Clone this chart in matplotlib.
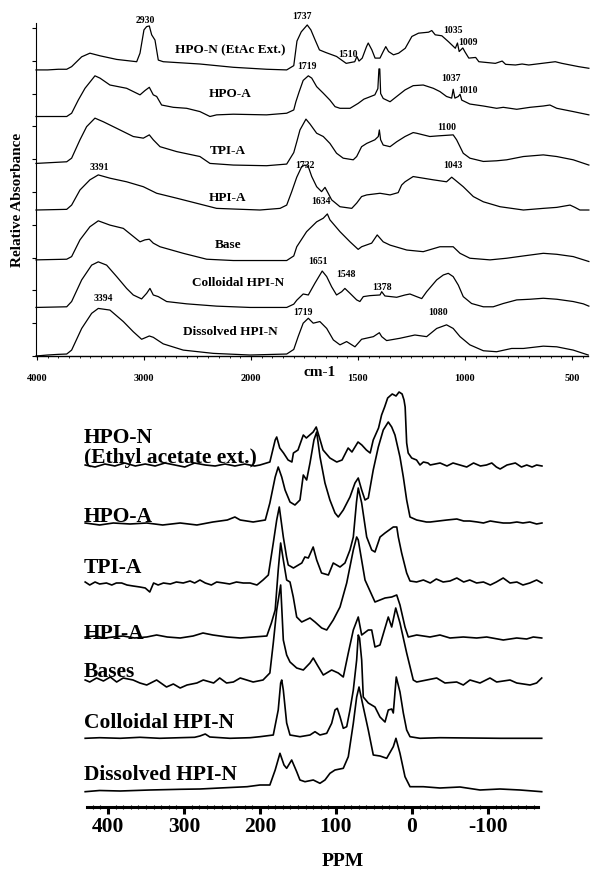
import numpy as np
import matplotlib.pyplot as plt
from matplotlib.ticker import FixedLocator, MultipleLocator

plt.rcParams['font.family'] = ['Liberation Serif', 'DejaVu Serif']
plt.rcParams['font.weight'] = 'bold'

# ---- FTIR spectra: (wavenumber cm-1, relative absorbance incl. stack offset)
ir_hpo_n = [(4009, 8.72), (3900, 8.72), (3800, 8.74), (3722, 8.74), (3676, 8.82), (3582, 9.12),
            (3505, 9.23), (3411, 9.15), (3255, 9.04), (3068, 8.97), (3037, 9.23), (3000, 9.94),
            (2975, 10.04), (2950, 10.06), (2928, 9.79), (2897, 9.63), (2866, 9.02), (2820, 8.97),
            (2477, 8.90), (2165, 8.80), (1927, 8.74), (1833, 8.72), (1800, 8.85), (1785, 9.6),
            (1765, 9.88), (1737, 10.09), (1720, 9.94), (1700, 9.63), (1680, 9.33), (1650, 9.25),
            (1600, 9.13), (1555, 8.92), (1515, 8.97), (1505, 9.13), (1495, 8.99), (1480, 9.08),
            (1460, 9.43), (1452, 9.54), (1435, 9.33), (1420, 9.08), (1397, 9.08), (1382, 9.28),
            (1370, 9.43), (1357, 9.28), (1334, 9.18), (1310, 9.23), (1279, 9.38), (1248, 9.74),
            (1217, 9.84), (1170, 9.87), (1155, 9.92), (1139, 9.79), (1108, 9.76), (1077, 9.58),
            (1045, 9.38), (1035, 9.54), (1027, 9.28), (1010, 9.39), (1000, 9.27), (982, 9.08),
            (950, 9.10), (935, 8.97), (920, 8.96), (858, 8.92), (826, 8.99), (810, 8.89),
            (764, 8.87), (733, 8.90), (702, 8.87), (640, 8.92), (578, 8.97), (547, 8.92),
            (469, 8.82), (421, 8.77)]
ir_hpo_a = [(4009, 7.30), (3722, 7.30), (3676, 7.40), (3614, 7.80), (3551, 8.16), (3458, 8.54),
            (3411, 8.47), (3318, 8.26), (3162, 8.16), (3037, 7.96), (2991, 8.09), (2950, 8.19),
            (2913, 7.96), (2881, 7.91), (2835, 7.65), (2726, 7.58), (2601, 7.55), (2477, 7.45),
            (2383, 7.30), (2321, 7.35), (2165, 7.37), (1927, 7.35), (1833, 7.40), (1800, 7.5),
            (1790, 7.75), (1775, 8.05), (1756, 8.40), (1732, 8.54), (1716, 8.47), (1693, 8.21),
            (1662, 8.01), (1631, 7.80), (1607, 7.60), (1584, 7.55), (1537, 7.55), (1499, 7.70),
            (1472, 7.83), (1452, 7.88), (1421, 7.96), (1407, 8.15), (1402, 8.75), (1398, 8.75),
            (1394, 8.0), (1382, 7.85), (1350, 7.75), (1319, 7.91), (1280, 8.11), (1242, 8.24),
            (1195, 8.26), (1148, 8.16), (1117, 8.06), (1086, 7.91), (1062, 7.86), (1055, 8.13),
            (1047, 7.86), (1031, 7.91), (1023, 7.98), (1015, 7.80), (977, 7.68), (914, 7.62),
            (852, 7.55), (821, 7.58), (758, 7.52), (696, 7.58), (634, 7.62), (603, 7.65),
            (571, 7.55), (494, 7.45), (421, 7.35)]
ir_tpi_a = [(4009, 5.87), (3722, 5.92), (3676, 6.03), (3598, 6.59), (3536, 6.99), (3458, 7.25),
            (3380, 7.14), (3255, 6.94), (3100, 6.69), (3006, 6.64), (2950, 6.74), (2913, 6.59),
            (2850, 6.38), (2694, 6.23), (2477, 6.08), (2383, 5.87), (2165, 5.82), (1927, 5.80),
            (1833, 5.85), (1800, 6.2), (1785, 6.55), (1771, 6.89), (1743, 7.22), (1724, 7.07),
            (1693, 6.79), (1662, 6.69), (1631, 6.48), (1600, 6.18), (1569, 6.03), (1522, 5.98),
            (1506, 6.08), (1483, 6.38), (1459, 6.48), (1421, 6.59), (1405, 6.69), (1400, 6.89),
            (1394, 6.59), (1382, 6.43), (1350, 6.38), (1319, 6.53), (1280, 6.69), (1242, 6.81),
            (1226, 6.79), (1164, 6.69), (1125, 6.71), (1055, 6.74), (1039, 6.59), (1008, 6.18),
            (977, 6.03), (914, 5.93), (852, 5.95), (805, 5.98), (727, 6.08), (634, 6.13),
            (571, 6.08), (494, 5.98), (421, 5.82)]
ir_hpi_a = [(4009, 4.45), (3722, 4.47), (3676, 4.60), (3598, 5.06), (3505, 5.37), (3427, 5.52),
            (3318, 5.42), (3162, 5.31), (3006, 5.16), (2881, 4.96), (2694, 4.81), (2477, 4.63),
            (2321, 4.50), (2165, 4.48), (1958, 4.45), (1864, 4.50), (1833, 4.60), (1810, 5.0),
            (1786, 5.45), (1763, 5.77), (1748, 5.82), (1732, 5.77), (1716, 5.47), (1693, 5.16),
            (1670, 5.01), (1654, 5.14), (1639, 4.96), (1623, 4.76), (1584, 4.55), (1529, 4.50),
            (1506, 4.66), (1483, 4.86), (1459, 4.91), (1397, 4.96), (1350, 4.91), (1312, 4.98),
            (1296, 5.21), (1280, 5.31), (1242, 5.47), (1195, 5.42), (1148, 5.37), (1086, 5.31),
            (1062, 5.45), (1047, 5.37), (1008, 5.16), (961, 4.86), (914, 4.70), (836, 4.55),
            (727, 4.45), (634, 4.50), (571, 4.53), (509, 4.60), (486, 4.53), (463, 4.45),
            (421, 4.45)]
ir_base = [(4009, 2.93), (3722, 2.95), (3676, 3.03), (3598, 3.54), (3505, 3.94), (3427, 4.12),
           (3318, 3.99), (3193, 3.89), (3037, 3.48), (2991, 3.54), (2950, 3.56), (2913, 3.44),
           (2850, 3.33), (2633, 3.13), (2414, 2.95), (2165, 2.91), (1927, 2.91), (1833, 2.91),
           (1800, 3.05), (1786, 3.33), (1740, 3.79), (1693, 4.09), (1662, 4.20), (1643, 4.33),
           (1631, 4.15), (1584, 3.79), (1537, 3.48), (1499, 3.25), (1483, 3.33), (1436, 3.44),
           (1410, 3.69), (1382, 3.48), (1350, 3.38), (1272, 3.23), (1195, 3.18), (1117, 3.33),
           (1055, 3.33), (1023, 3.13), (977, 2.98), (883, 2.93), (805, 2.98), (727, 3.05),
           (634, 3.13), (571, 3.10), (494, 3.03), (421, 2.88)]
ir_coll = [(4009, 1.48), (3722, 1.50), (3676, 1.66), (3582, 2.32), (3489, 2.77), (3427, 2.87),
           (3349, 2.77), (3255, 2.42), (3162, 2.06), (3100, 1.86), (3022, 1.74), (2975, 1.91),
           (2944, 2.06), (2913, 1.86), (2866, 1.81), (2788, 1.66), (2601, 1.59), (2321, 1.52),
           (2009, 1.48), (1833, 1.48), (1800, 1.58), (1786, 1.70), (1756, 1.89), (1732, 1.86),
           (1701, 2.22), (1667, 2.59), (1646, 2.42), (1623, 2.11), (1600, 1.86), (1576, 1.96),
           (1561, 2.06), (1537, 1.91), (1506, 1.71), (1491, 1.66), (1475, 1.81), (1444, 1.84),
           (1397, 1.86), (1389, 1.96), (1374, 1.83), (1319, 1.79), (1280, 1.86), (1257, 1.89),
           (1226, 1.81), (1202, 1.75), (1179, 1.96), (1132, 2.32), (1101, 2.47), (1078, 2.52),
           (1055, 2.42), (1031, 2.16), (1008, 1.81), (969, 1.60), (914, 1.50), (868, 1.50),
           (821, 1.60), (758, 1.71), (696, 1.73), (634, 1.76), (571, 1.73), (494, 1.66),
           (447, 1.59), (421, 1.52)]
ir_diss = [(4009, 0.0), (3900, 0.03), (3800, 0.05), (3722, 0.06), (3676, 0.18), (3582, 0.84),
           (3489, 1.30), (3427, 1.45), (3318, 1.40), (3193, 1.05), (3100, 0.74), (3022, 0.51),
           (2950, 0.61), (2913, 0.57), (2820, 0.37), (2633, 0.18), (2352, 0.08), (2009, 0.03),
           (1833, 0.06), (1800, 0.20), (1779, 0.60), (1756, 1.00), (1732, 1.15), (1709, 1.00),
           (1678, 1.05), (1646, 0.84), (1615, 0.49), (1584, 0.34), (1553, 0.44), (1514, 0.28),
           (1483, 0.51), (1428, 0.59), (1400, 0.71), (1389, 0.59), (1366, 0.47), (1304, 0.54),
           (1234, 0.64), (1179, 0.59), (1132, 0.84), (1086, 0.95), (1055, 0.84), (1023, 0.59),
           (977, 0.34), (914, 0.16), (852, 0.13), (782, 0.23), (727, 0.23), (634, 0.30),
           (571, 0.28), (494, 0.18), (424, 0.03)]

ir_spectra = [ir_hpo_n, ir_hpo_a, ir_tpi_a, ir_hpi_a, ir_base, ir_coll, ir_diss]
ir_names = ["HPO-N (EtAc Ext.)", "HPO-A", "TPI-A", "HPI-A", "Base",
            "Colloidal HPI-N", "Dissolved HPI-N"]
ir_name_pos = [(2196, 9.33), (2196, 7.99), (2215, 6.25), (2215, 4.82), (2215, 3.38),
               (2121, 2.23), (2196, 0.73)]
ir_peaks = [("2930", 2991, 10.24), ("1737", 1762, 10.34), ("1510", 1547, 9.18),
            ("1035", 1056, 9.91), ("1009", 986, 9.57), ("1719", 1738, 8.81),
            ("1037", 1065, 8.45), ("1010", 986, 8.08), ("1100", 1084, 6.95),
            ("3391", 3421, 5.76), ("1732", 1748, 5.82), ("1043", 1056, 5.82),
            ("1634", 1673, 4.70), ("1651", 1687, 2.87), ("1548", 1556, 2.47),
            ("1378", 1388, 2.10), ("3394", 3383, 1.74), ("1719", 1757, 1.34),
            ("1080", 1126, 1.34)]
ir_ticks = [4000, 3000, 2000, 1500, 1000, 500]

# ---- 13C NMR spectra: (ppm, intensity incl. stack offset)
nmr_hpo_n = [(430, 34.2), (417, 34.0), (404, 34.3), (391, 34.1), (378, 34.4), (364, 34.1),
             (351, 34.3), (338, 34.1), (325, 34.4), (312, 34.2), (299, 34.0), (286, 34.4),
             (272, 34.2), (259, 34.1), (246, 34.3), (233, 34.1), (220, 34.3), (207, 34.1),
             (200, 34.2), (187, 34.5), (180, 36.7), (178, 37.0), (174, 35.9), (169, 35.4),
             (163, 34.7), (158, 34.5), (156, 35.4), (150, 35.7), (143, 37.2), (139, 36.9),
             (130, 37.5), (126, 38.0), (122, 37.0), (117, 35.7), (108, 34.9), (99, 34.5),
             (92, 34.7), (84, 35.9), (79, 35.5), (71, 36.5), (66, 36.2), (60, 35.7), (55, 35.4),
             (51, 36.7), (44, 37.9), (40, 39.2), (36, 40.0), (32, 40.9), (26, 41.3), (21, 41.1),
             (17, 41.5), (13, 41.3), (10.5, 40.7), (9, 40.0), (7, 36.4), (5, 35.4), (0.4, 34.9),
             (-6, 34.7), (-10.5, 34.2), (-15, 34.5), (-21, 34.4), (-24, 34.2), (-37, 34.4),
             (-46, 34.1), (-54, 34.4), (-63, 34.2), (-72, 34.0), (-81, 34.4), (-90, 34.1),
             (-98, 34.2), (-105, 34.4), (-111, 34.0), (-116, 33.8), (-125, 34.2), (-136, 34.4),
             (-144, 34.0), (-151, 34.2), (-158, 34.0), (-164, 34.2), (-171, 34.1)]
nmr_hpo_a = [(430, 28.4), (411, 28.2), (393, 28.4), (371, 28.3), (349, 28.4), (328, 28.2),
             (305, 28.4), (283, 28.2), (262, 28.5), (243, 28.7), (233, 29.0), (226, 28.7),
             (209, 28.5), (193, 28.7), (187, 30.4), (180, 33.0), (176, 34.0), (171.4, 33.0),
             (167, 31.7), (160.5, 30.5), (154, 30.2), (147.4, 30.7), (143, 33.2), (138.6, 32.7),
             (134.2, 34.4), (129, 36.7), (125.4, 37.5), (121, 35.0), (114.5, 32.4), (108, 30.7),
             (101.3, 29.4), (97, 29.0), (90.4, 29.7), (81.6, 31.0), (75, 32.4), (70.7, 32.9),
             (66.2, 31.7), (61.8, 30.7), (57.5, 30.9), (51, 33.7), (44.3, 36.0), (37.8, 37.7),
             (31.2, 38.5), (26.7, 38.0), (22.4, 37.2), (15.8, 35.0), (11.4, 33.0), (7, 30.7),
             (2.6, 29.0), (-6.2, 28.7), (-19, 28.5), (-24, 28.5), (-35, 28.6), (-46, 28.7),
             (-59, 28.8), (-68, 28.6), (-76, 28.6), (-86, 28.5), (-94, 28.4), (-103, 28.6),
             (-111, 28.5), (-120, 28.4), (-129, 28.4), (-138, 28.5), (-146, 28.4), (-155, 28.5),
             (-164, 28.3), (-171, 28.4)]
nmr_tpi_a = [(430, 22.5), (424, 22.2), (417, 22.5), (411, 22.3), (402, 22.4), (395, 22.2),
             (389, 22.4), (382, 22.4), (375, 22.2), (367, 22.1), (358, 22.0), (351, 21.9),
             (345, 21.5), (340, 22.4), (334, 22.2), (327, 22.4), (318, 22.3), (310, 22.5),
             (301, 22.4), (292, 22.6), (286, 22.4), (279, 22.7), (272, 22.4), (264, 22.2),
             (257, 22.5), (248, 22.4), (240, 22.3), (231, 22.5), (222, 22.4), (213, 22.4),
             (204, 22.2), (196, 22.7), (189, 23.2), (182.5, 26.4), (178, 28.7), (174.6, 30.0),
             (169.3, 27.0), (165, 25.0), (162.8, 24.2), (156, 23.9), (145, 24.4), (141, 25.0),
             (136.4, 24.9), (130, 26.0), (125.4, 24.7), (119, 23.4), (110, 23.2), (103.6, 24.4),
             (94.7, 24.0), (88.2, 24.4), (81.6, 25.7), (77.2, 27.0), (73, 30.5), (70.7, 31.9),
             (66.2, 30.4), (59.6, 27.0), (53, 25.7), (48.7, 25.5), (42, 27.0), (35.5, 27.4),
             (24.6, 28.0), (20, 28.0), (18, 27.0), (13.6, 25.4), (7, 23.4), (2.6, 22.6),
             (-6, 22.5), (-15, 22.7), (-24, 22.4), (-32, 22.8), (-41, 22.5), (-50, 22.6),
             (-59, 22.9), (-68, 22.5), (-76, 22.7), (-85, 22.4), (-94, 22.5), (-103, 22.2),
             (-111, 22.5), (-120, 22.9), (-129, 22.4), (-138, 22.5), (-146, 22.2), (-155, 22.4),
             (-164, 22.7), (-171, 22.4)]
nmr_hpi_a = [(430, 17.0), (417, 17.1), (404, 16.9), (393, 17.0), (380, 17.1), (365, 16.9),
             (349, 17.0), (336, 17.2), (322, 17.0), (305, 16.9), (288, 17.1), (275, 17.4),
             (262, 17.2), (243, 17.0), (226, 16.9), (209, 17.0), (191, 17.1), (185, 18.4),
             (180, 19.7), (176, 23.7), (172.8, 26.4), (169.3, 24.7), (164.9, 22.7), (160.5, 22.5),
             (156.2, 21.0), (151.7, 19.0), (145.1, 18.5), (134.2, 18.9), (127.6, 18.5),
             (118.8, 17.9), (112.2, 17.7), (103.6, 18.7), (94.7, 20.0), (85.9, 22.4), (77.2, 25.7),
             (72.8, 27.0), (70.7, 26.7), (61.8, 22.7), (48.7, 20.5), (35.5, 20.9), (26.7, 21.0),
             (20.1, 21.2), (15.8, 20.2), (9.2, 18.0), (4.9, 17.0), (-6.2, 17.2), (-23.7, 17.0),
             (-36.8, 17.2), (-50, 16.9), (-67.5, 17.0), (-85.1, 16.9), (-98.3, 17.0),
             (-120.1, 16.7), (-137.8, 16.9), (-150.9, 16.8), (-159.6, 17.0), (-170.7, 16.9)]
nmr_bases = [(430, 12.7), (424, 12.5), (415, 12.9), (406, 12.6), (397, 13.0), (388.6, 12.5),
             (380, 12.9), (367, 12.7), (358, 12.4), (349, 12.2), (336, 12.7), (323, 12.0),
             (314, 12.3), (305, 11.9), (296, 12.2), (283, 12.4), (274.6, 12.7), (261, 12.4),
             (253, 12.9), (244, 12.4), (235, 12.5), (226, 12.9), (217.5, 12.7), (209, 12.5),
             (196, 12.7), (187, 13.4), (182.5, 16.4), (178, 19.7), (172.8, 22.2), (169.3, 16.7),
             (164.9, 15.2), (160.5, 14.5), (151.7, 13.9), (143, 13.7), (134.2, 14.4),
             (129.9, 14.9), (124.6, 14.2), (116.7, 13.2), (110.1, 13.5), (105.7, 13.7),
             (97, 13.4), (90.4, 13.0), (83.8, 15.4), (77.2, 17.7), (70.7, 19.0), (66.2, 17.2),
             (57.5, 17.7), (53, 17.7), (48.7, 16.0), (42.1, 16.2), (31.2, 19.0), (26.7, 18.0),
             (21.4, 19.9), (15.8, 18.4), (7, 15.4), (-1.7, 12.7), (-6.2, 12.5), (-19.3, 12.7),
             (-32.5, 12.9), (-43.4, 12.4), (-58.8, 12.5), (-67.5, 12.2), (-76.3, 12.7),
             (-89.5, 12.4), (-102.6, 12.9), (-111.4, 12.5), (-129, 12.7), (-137.8, 12.4),
             (-155.3, 12.2), (-164, 12.4), (-170.7, 12.9)]
nmr_coll = [(430, 6.87), (411, 6.93), (384, 6.87), (358, 6.97), (332, 6.87), (305, 6.93),
            (286, 6.97), (279, 7.1), (272, 7.3), (266, 7.0), (239.5, 6.87), (213, 6.93),
            (200, 7.03), (182.5, 7.2), (176, 9.7), (172.8, 12.4), (171.4, 12.7), (169.3, 11.7),
            (164.9, 8.4), (160.5, 7.2), (147.4, 7.03), (134.2, 7.2), (127.6, 7.53), (121.1, 7.2),
            (112.2, 7.37), (105.7, 8.37), (101.3, 9.7), (98.3, 9.87), (94.7, 9.03), (90.4, 7.87),
            (85.9, 8.03), (81.6, 9.7), (77.2, 11.7), (72.8, 14.7), (70.7, 17.2), (69, 16.9),
            (66.2, 14.7), (64.1, 11.0), (57.5, 10.4), (48.7, 10.0), (42.1, 9.0), (35.5, 8.5),
            (31.2, 9.7), (26.7, 9.8), (24.6, 9.4), (20.7, 13.0), (15.8, 11.5), (11.4, 9.4),
            (7, 7.7), (2.6, 7.03), (-10.5, 6.87), (-36.8, 6.93), (-76.3, 6.9), (-115.8, 6.87),
            (-170.7, 6.87)]
nmr_diss = [(430, 1.53), (411, 1.65), (384, 1.6), (345, 1.7), (305, 1.77), (279, 1.8),
            (253, 1.9), (217, 2.03), (200, 2.2), (187, 2.2), (180, 3.7), (173.7, 5.37),
            (168.4, 4.2), (164.9, 3.87), (158.3, 4.7), (151.7, 3.53), (147.4, 2.7), (140.8, 2.53),
            (129.9, 2.7), (121.1, 2.37), (114.5, 2.7), (107.9, 3.37), (101.3, 3.7), (90.4, 3.87),
            (83.8, 5.03), (77.2, 8.37), (72.8, 11.0), (69.7, 12.0), (64.1, 10.0), (57.5, 7.7),
            (50.9, 5.2), (42.1, 5.1), (33.3, 4.87), (24.6, 6.03), (21.1, 6.87), (15.8, 5.37),
            (9.2, 3.03), (2.6, 2.03), (-14.9, 2.03), (-36.8, 1.9), (-63.2, 2.0), (-89.5, 1.7),
            (-115.8, 1.8), (-142.1, 1.7), (-170.7, 1.53)]

nmr_spectra = [nmr_hpo_n, nmr_hpo_a, nmr_tpi_a, nmr_hpi_a, nmr_bases, nmr_coll, nmr_diss]
nmr_names = ["HPO-N", "(Ethyl acetate ext.)", "HPO-A", "TPI-A", "HPI-A", "Bases",
             "Colloidal HPI-N", "Dissolved HPI-N"]
nmr_name_y = [36.4, 34.4, 28.5, 23.4, 16.8, 13.0, 7.9, 2.7]
nmr_ticks = [400, 300, 200, 100, 0, -100]


# piecewise wavenumber axis: 1000 cm-1 per unit above 2000, 500 cm-1 per unit below
# (kept increasing in w; the axis is then inverted through xlim)
def ir_fwd(w):
    w = np.asarray(w, float)
    return np.where(w >= 2000, (w - 4000) / 1000.0, -2 - (2000 - w) / 500.0)


def ir_inv(u):
    u = np.asarray(u, float)
    return np.where(u >= -2, 4000 + 1000.0 * u, 2000 + 500.0 * (u + 2))


fig = plt.figure(figsize=(5.9, 8.71), dpi=100)

# ---------------- top: FTIR ----------------
ax1 = fig.add_axes([36 / 590, 515 / 871, 552 / 590, 333 / 871])
ax1.set_xscale('function', functions=(ir_fwd, ir_inv))
for spec in ir_spectra:
    xy = np.array(spec)
    ax1.plot(xy[:, 0], xy[:, 1], color='black', lw=0.9, clip_on=False)
ax1.set_xlim(4009, 425)
ax1.set_ylim(0, 10.15)
for sp in ['top', 'right']:
    ax1.spines[sp].set_visible(False)
ax1.spines['left'].set_linewidth(0.8)
ax1.spines['bottom'].set_linewidth(1.0)
ax1.set_xticks(ir_ticks)
ax1.set_xticklabels([str(t) for t in ir_ticks], fontsize=7.5, fontweight='bold')
ax1.xaxis.set_minor_locator(FixedLocator(list(range(4000, 2000, -100)) + list(range(2000, 400, -50))))
ax1.tick_params(axis='x', which='major', length=3, width=0.8, pad=10)
ax1.tick_params(axis='x', which='minor', length=1.5, width=0.6)
ax1.set_yticks(np.arange(0, 11))
ax1.set_yticklabels([])
ax1.tick_params(axis='y', length=3, width=0.8)

for name, (wx, wy) in zip(ir_names, ir_name_pos):
    ax1.text(wx, wy, name, ha='center', va='center', fontsize=9.5, fontweight='bold')
for lab, wx, wy in ir_peaks:
    ax1.text(wx, wy, lab, ha='center', va='center', fontsize=7, fontweight='bold')

fig.text(18 / 590, 1 - 200 / 871, 'Relative Absorbance', rotation=90, ha='center',
         va='center', fontsize=11, fontweight='bold')
fig.text(320 / 590, 1 - 372 / 871, 'cm-1', ha='center', va='center', fontsize=11,
         fontweight='bold')

# ---------------- bottom: 13C NMR ----------------
ax2 = fig.add_axes([87 / 590, 64 / 871, 451 / 590, 420 / 871])
for spec in nmr_spectra:
    xy = np.array(spec)
    ax2.plot(xy[:, 0], xy[:, 1], color='black', lw=1.2, clip_on=False)
ax2.set_xlim(427.6, -165.8)
ax2.set_ylim(0, 42)
for sp in ['top', 'right', 'left']:
    ax2.spines[sp].set_visible(False)
ax2.spines['bottom'].set_linewidth(2.2)
ax2.set_yticks([])
ax2.set_xticks(nmr_ticks)
ax2.set_xticklabels([str(t) for t in nmr_ticks], fontsize=15.5, fontweight='bold')
ax2.xaxis.set_minor_locator(MultipleLocator(10))
ax2.tick_params(axis='x', which='major', length=5, width=2.2, pad=2)
ax2.tick_params(axis='x', which='minor', length=3, width=0.8, direction='inout')

for name, yv in zip(nmr_names, nmr_name_y):
    ax2.text(431.6, yv, name, ha='left', va='baseline', fontsize=15.5, fontweight='bold')

fig.text(343 / 590, 1 - 861 / 871, 'PPM', ha='center', va='center', fontsize=14,
         fontweight='bold')

fig.savefig('out.png', dpi=100)
